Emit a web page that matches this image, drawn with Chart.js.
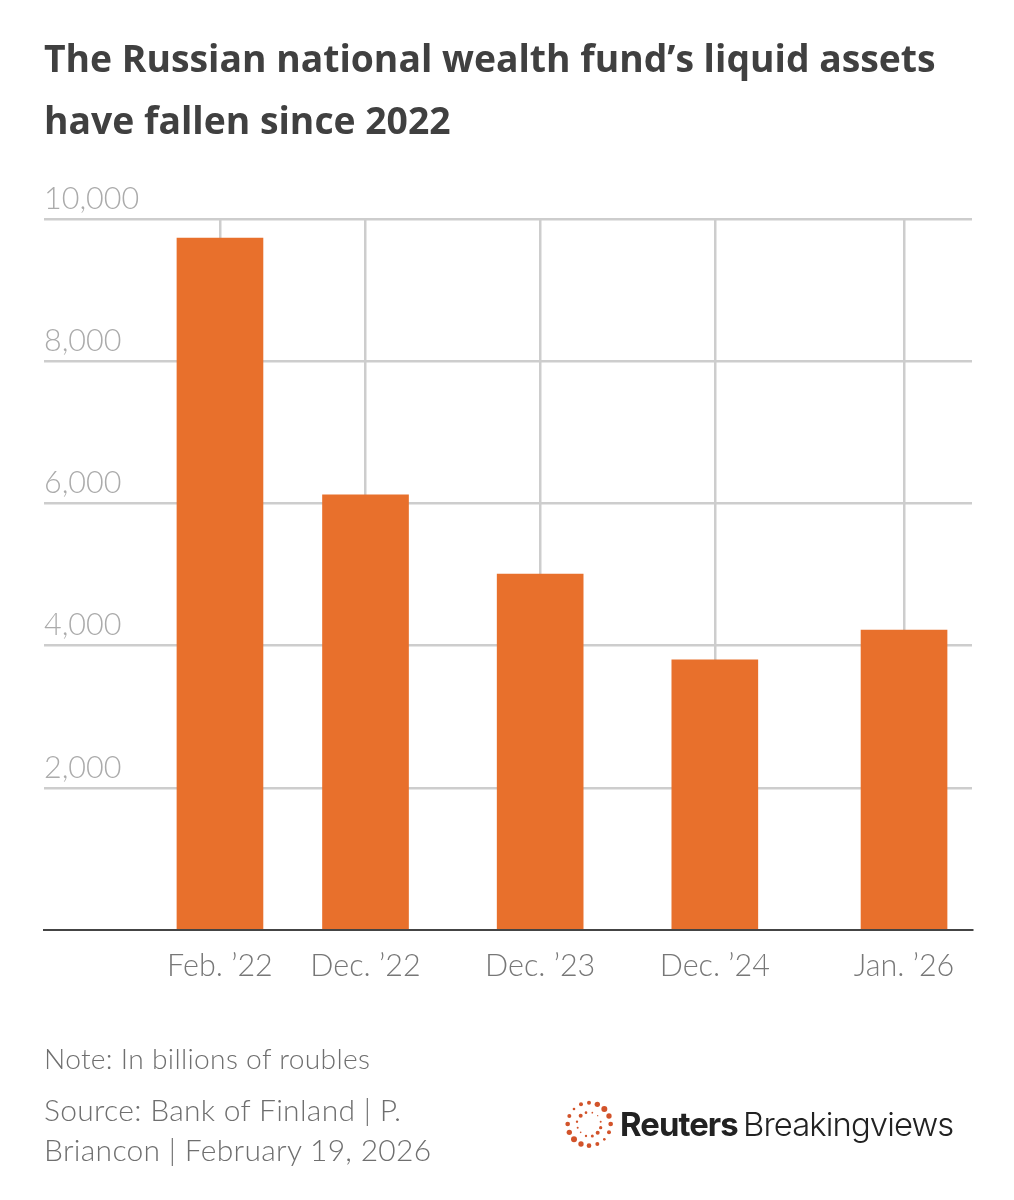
<!DOCTYPE html>
<html><head><meta charset="utf-8">
<style>
html,body{margin:0;padding:0;background:#fff;width:1014px;height:1200px;overflow:hidden}
#wrap{position:relative;width:1014px;height:1200px}
canvas{position:absolute;left:0;top:0}
.t{position:absolute;white-space:nowrap;font-family:Lato,sans-serif}
#title{left:44px;top:27px;font-family:"Open Sans",sans-serif;font-weight:700;font-size:37.3px;line-height:62px;color:#404040}
.foot{left:44px;font-weight:300;color:#6f6f6f;font-size:30px;line-height:40px;letter-spacing:.3px}
#brand{left:620px;top:1106px;font-family:Inter,sans-serif;font-size:32.8px;line-height:36px;color:#222;letter-spacing:-.9px;word-spacing:-3px}
#brand b{font-weight:700}#brand span{font-weight:300}
</style></head><body>
<div id="wrap">
<canvas id="c" width="1014" height="1200"></canvas>
<div id="title" class="t">The Russian national wealth fund’s liquid assets<br>have fallen since 2022</div>
<div class="t foot" style="top:1038px;font-size:28.2px">Note: In billions of roubles</div>
<div class="t foot" style="top:1089px">Source: Bank of Finland | P.<br>Briancon | February 19, 2026</div>
<svg style="position:absolute;left:550px;top:1080px" width="90" height="90" viewBox="0 0 270 270" fill="#d2532a">
<circle cx="117" cy="68" r="6"/><circle cx="142" cy="73" r="8"/><circle cx="163" cy="87" r="9"/><circle cx="177" cy="108" r="8"/><circle cx="182" cy="132" r="7"/><circle cx="177" cy="157" r="6"/><circle cx="163" cy="178" r="4"/><circle cx="142" cy="192" r="6"/><circle cx="117" cy="197" r="7"/><circle cx="93" cy="192" r="8"/><circle cx="72" cy="178" r="9"/><circle cx="58" cy="157" r="8"/><circle cx="53" cy="132" r="7"/><circle cx="58" cy="108" r="6"/><circle cx="72" cy="87" r="4"/><circle cx="93" cy="73" r="6"/>
<circle cx="127" cy="98" r="2.5"/><circle cx="108" cy="98" r="4"/><circle cx="92" cy="107" r="6"/><circle cx="143" cy="107" r="2"/><circle cx="152" cy="125" r="3"/><circle cx="152" cy="143" r="5"/><circle cx="143" cy="158" r="6"/><circle cx="127" cy="168" r="4.5"/><circle cx="108" cy="168" r="3.5"/><circle cx="92" cy="157" r="2.5"/><circle cx="83" cy="143" r="3"/><circle cx="81" cy="125" r="3.5"/>
</svg>
<div id="brand" class="t"><b>Reuters</b> <span>Breakingviews</span></div>
</div>
<script src="https://cdn.jsdelivr.net/npm/chart.js@4"></script>
<script>
const categories = ["Feb. ’22", "Dec. ’22", "Dec. ’23", "Dec. ’24", "Jan. ’26"];
const monthsSinceStart = [0, 10, 22, 34, 47];
const values = [9730, 6120, 5005, 3800, 4220];
const yTicks = [0, 2000, 4000, 6000, 8000, 10000];
const xMin = -12.09, xMax = 51.67;

new Chart(document.getElementById('c'), {
  type: 'bar',
  data: { datasets: [{
    data: monthsSinceStart.map((m, i) => ({ x: m, y: values[i] })),
    backgroundColor: '#E8702C',
    barThickness: 86
  }]},
  options: {
    responsive: false,
    devicePixelRatio: 1,
    animation: false,
    layout: { padding: { left: 44, right: 42, top: 219, bottom: 210 } },
    plugins: { legend: { display: false }, tooltip: { enabled: false } },
    scales: {
      x: {
        type: 'linear', min: xMin, max: xMax, offset: false,
        afterBuildTicks: s => { s.ticks = monthsSinceStart.map(v => ({ value: v })); },
        afterFit: s => { s.height = 60; },
        grid: { color: '#cdcdcd', lineWidth: 2.5, drawTicks: false, offset: false },
        border: { display: true, color: '#444444', width: 2, z: 1 },
        ticks: {
          autoSkip: false, maxRotation: 0, minRotation: 0, padding: 18,
          color: '#777777', font: { family: 'Lato', size: 30.5, weight: 300 },
          callback: v => categories[monthsSinceStart.indexOf(v)]
        }
      },
      y: {
        min: 0, max: 10000,
        afterBuildTicks: s => { s.ticks = yTicks.map(v => ({ value: v })); },
        grid: { color: c => c.tick.value === 0 ? 'rgba(0,0,0,0)' : '#cdcdcd', lineWidth: 2.5, drawTicks: false },
        border: { display: false },
        ticks: {
          mirror: true, padding: 0, labelOffset: -20,
          color: '#ababab', font: { family: 'Lato', size: 30.5, weight: 300 },
          callback: v => v === 0 ? '' : v.toLocaleString('en-US')
        }
      }
    }
  }
});
</script>
</body></html>
